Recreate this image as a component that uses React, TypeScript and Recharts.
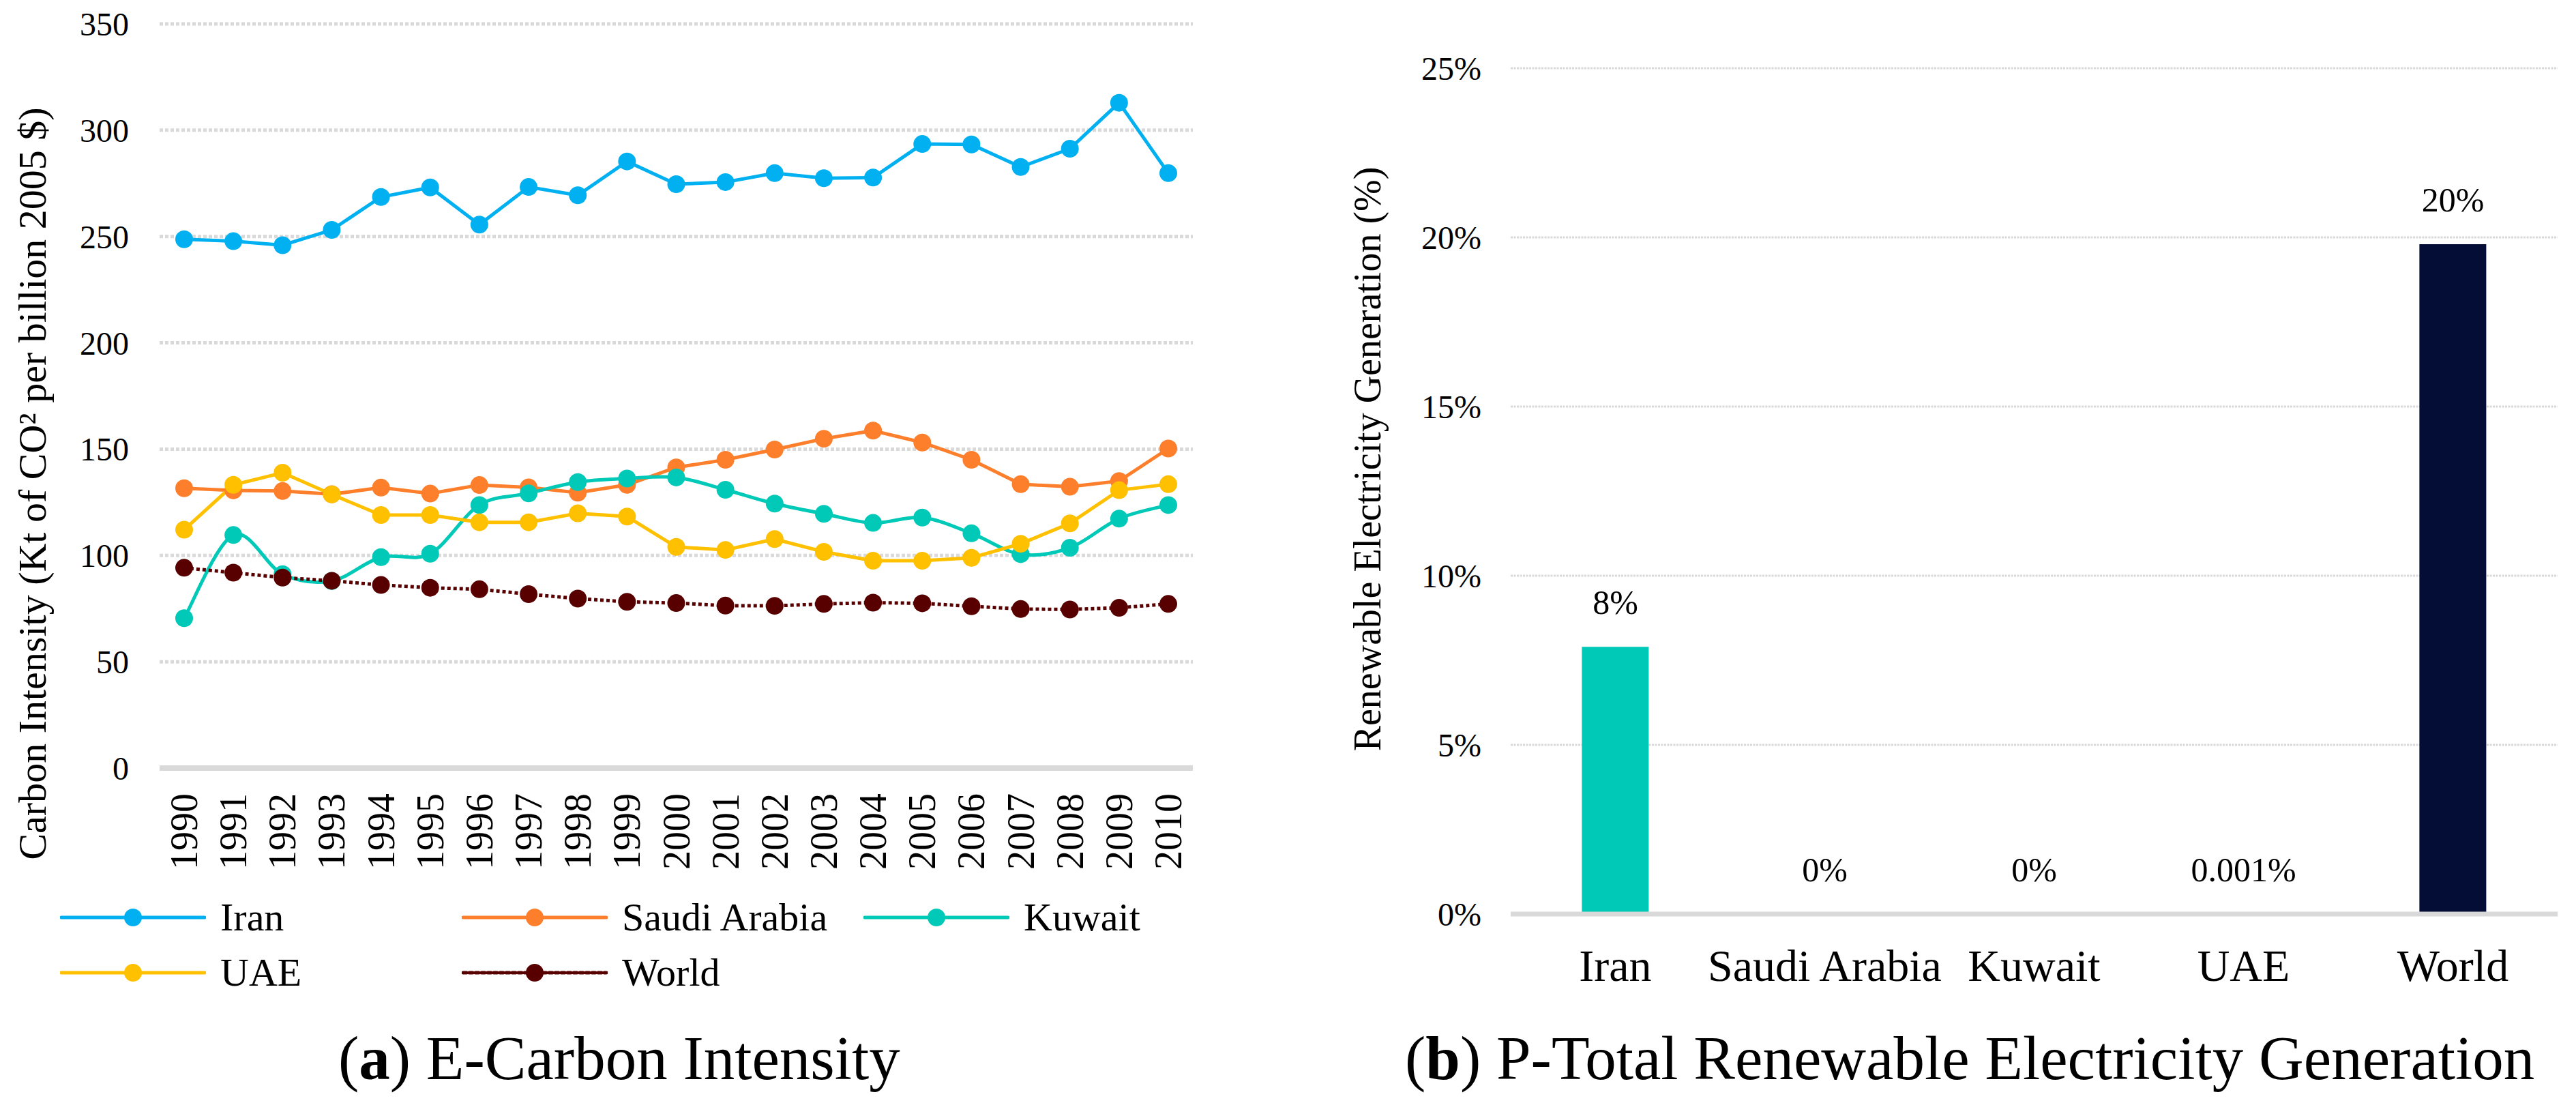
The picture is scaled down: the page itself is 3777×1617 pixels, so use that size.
import React from 'react';
import {
  LineChart, Line, ComposedChart, Bar, Cell, LabelList, XAxis, YAxis, CartesianGrid, Legend,
} from 'recharts';

const years = ['1990', '1991', '1992', '1993', '1994', '1995', '1996', '1997', '1998', '1999', '2000',
  '2001', '2002', '2003', '2004', '2005', '2006', '2007', '2008', '2009', '2010'];

const iran = [248.7, 247.8, 245.9, 253.1, 268.6, 273.1, 255.6, 273.3, 269.4, 285.3, 274.6,
  275.6, 279.8, 277.4, 277.7, 293.5, 293.3, 282.7, 291.3, 312.9, 279.8];
const saudi = [131.6, 130.6, 130.3, 128.8, 131.9, 129.1, 133.1, 132.0, 129.5, 133.2, 141.4,
  145.0, 149.8, 154.9, 158.7, 153.1, 145.0, 133.5, 132.3, 135.0, 150.3];
const kuwait = [70.5, 109.6, 91.2, 88.0, 99.2, 100.8, 123.7, 129.2, 134.5, 136.2, 136.7,
  130.9, 124.4, 119.6, 115.3, 117.8, 110.4, 100.6, 103.6, 117.3, 123.7];
const uae = [112.1, 133.2, 138.9, 128.7, 119.0, 119.0, 115.6, 115.6, 119.8, 118.3, 104.0,
  102.6, 107.7, 101.7, 97.5, 97.5, 98.9, 105.5, 115.1, 130.7, 133.5];
const world = [94.2, 91.9, 89.6, 88.1, 86.1, 84.8, 84.1, 81.8, 79.7, 78.2, 77.6,
  76.4, 76.3, 77.2, 77.8, 77.5, 76.1, 74.8, 74.6, 75.4, 77.2];

const intensityTicks = [0, 50, 100, 150, 200, 250, 300, 350];

const countries = ['Iran', 'Saudi Arabia', 'Kuwait', 'UAE', 'World'];
const renewableShare = [7.9, 0, 0, 0.001, 19.8];
const shareTicks = [0, 5, 10, 15, 20, 25];
const barColors = ['#00c9b7', '#fd7f2c', '#00c9b7', '#ffc000', '#040d36'];

const lineData = years.map((year, i) => ({
  year,
  Iran: iran[i],
  'Saudi Arabia': saudi[i],
  Kuwait: kuwait[i],
  UAE: uae[i],
  World: world[i],
}));

const barData = countries.map((name, i) => ({ name, value: renewableShare[i] }));

const FONT = '"Liberation Serif", "Times New Roman", serif';

// Excel-style smoothed line (Catmull-Rom through the points)
function smoothCurve(context: any) {
  let pts: number[][] = [];
  return {
    areaStart() {},
    areaEnd() {},
    lineStart() { pts = []; },
    point(x: number, y: number) { pts.push([+x, +y]); },
    lineEnd() {
      if (!pts.length) return;
      context.moveTo(pts[0][0], pts[0][1]);
      for (let i = 0; i < pts.length - 1; i++) {
        const p0 = pts[i - 1] || pts[i];
        const p1 = pts[i];
        const p2 = pts[i + 1];
        const p3 = pts[i + 2] || p2;
        context.bezierCurveTo(
          p1[0] + (p2[0] - p0[0]) / 6, p1[1] + (p2[1] - p0[1]) / 6,
          p2[0] - (p3[0] - p1[0]) / 6, p2[1] - (p3[1] - p1[1]) / 6,
          p2[0], p2[1],
        );
      }
    },
  };
}

const series = [
  { key: 'Iran', color: '#00b0f0' },
  { key: 'Saudi Arabia', color: '#fd7f2c' },
  { key: 'Kuwait', color: '#00c9b7', curve: smoothCurve },
  { key: 'UAE', color: '#ffc000' },
  { key: 'World', color: '#580000', dash: '5 4' },
];
const seriesOrder = series.map(s => s.key);

const YearTick = ({ x, y, payload }: any) => (
  <text
    x={x}
    y={y}
    transform={`rotate(-90, ${x}, ${y})`}
    textAnchor="end"
    dominantBaseline="central"
    fontSize={56}
    fontFamily={FONT}
    fill="#000"
  >
    {payload.value}
  </text>
);

const renderLegend = ({ payload }: any) => {
  const items = [...(payload || [])].sort(
    (a: any, b: any) => seriesOrder.indexOf(a.value) - seriesOrder.indexOf(b.value),
  );
  return (
    <div style={{ display: 'grid', gridTemplateColumns: '589px 589px 589px', paddingLeft: 88, fontFamily: FONT }}>
      {items.map((entry: any) => (
        <div key={entry.value} style={{ display: 'flex', alignItems: 'center', height: 81 }}>
          <svg width={214} height={30}>
            <line
              x1={2} y1={15} x2={212} y2={15}
              stroke={entry.color}
              strokeWidth={5}
              strokeLinecap="round"
              strokeDasharray={entry.payload?.strokeDasharray}
            />
            <circle cx={107} cy={15} r={13} fill={entry.color} />
          </svg>
          <span style={{ marginLeft: 21, fontSize: 58, color: '#000', lineHeight: 1 }}>{entry.value}</span>
        </div>
      ))}
    </div>
  );
};

const shareLabel = (v: any) => (v >= 1 ? `${Math.round(v)}%` : `${v}%`);

export default function App() {
  return (
    <div style={{ position: 'absolute', left: 0, top: 0, width: 3777, height: 1617, background: '#fff', fontFamily: FONT }}>
      <div style={{ position: 'absolute', left: 0, top: 0 }}>
        <LineChart width={1900} height={1520} data={lineData} margin={{ top: 35, right: 151, bottom: 220, left: 0 }}>
          <CartesianGrid vertical={false} stroke="#d9d9d9" strokeWidth={5} strokeDasharray="5 3" />
          <XAxis
            dataKey="year"
            height={174}
            padding={{ left: 36, right: 36 }}
            interval={0}
            tick={<YearTick />}
            tickSize={0}
            tickMargin={37}
            axisLine={{ stroke: '#d9d9d9', strokeWidth: 8 }}
            tickLine={false}
          />
          <YAxis
            width={234}
            domain={[0, 350]}
            ticks={intensityTicks}
            interval={0}
            tickSize={0}
            tickMargin={45}
            axisLine={false}
            tickLine={false}
            tick={{ fontSize: 48, fill: '#000', fontFamily: FONT }}
          />
          <Legend
            verticalAlign="middle"
            align="center"
            content={renderLegend}
            wrapperStyle={{ left: 0, top: 1304, width: 1900 }}
          />
          {series.map(s => (
            <Line
              key={s.key}
              dataKey={s.key}
              name={s.key}
              type={(s.curve as any) || 'linear'}
              stroke={s.color}
              strokeWidth={5}
              strokeDasharray={s.dash}
              dot={{ r: 13, fill: s.color, strokeWidth: 0 }}
              activeDot={false}
              isAnimationActive={false}
            />
          ))}
        </LineChart>
      </div>

      <div style={{ position: 'absolute', left: 1900, top: 0 }}>
        <ComposedChart width={1877} height={1500} data={barData} margin={{ top: 100, right: 27, bottom: 0, left: 0 }} barCategoryGap="34%">
          <CartesianGrid vertical={false} stroke="#d9d9d9" strokeWidth={3} strokeDasharray="3 1.5" />
          <XAxis
            dataKey="name"
            height={160}
            interval={0}
            tickSize={0}
            tickMargin={51}
            axisLine={{ stroke: '#d9d9d9', strokeWidth: 7 }}
            tickLine={false}
            tick={{ fontSize: 66, fill: '#000', fontFamily: FONT }}
          />
          <YAxis
            width={315}
            domain={[0, 25]}
            ticks={shareTicks}
            interval={0}
            tickSize={0}
            tickMargin={43}
            axisLine={false}
            tickLine={false}
            tickFormatter={(v: number) => `${v}%`}
            tick={{ fontSize: 48, fill: '#000', fontFamily: FONT }}
          />
          <Bar dataKey="value" isAnimationActive={false}>
            {barData.map((d, i) => (
              <Cell key={d.name} fill={barColors[i]} />
            ))}
          </Bar>
          {/* invisible series that carries the value labels, so zero bars get theirs too */}
          <Line
            dataKey="value"
            stroke="none"
            dot={false}
            activeDot={false}
            legendType="none"
            isAnimationActive={false}
          >
            <LabelList
              dataKey="value"
              position="top"
              offset={48}
              formatter={shareLabel}
              style={{ fontSize: 50, fill: '#000', fontFamily: FONT }}
            />
          </Line>
        </ComposedChart>
      </div>

      <svg width={3777} height={1617} style={{ position: 'absolute', left: 0, top: 0, pointerEvents: 'none' }}>
        <text
          x={47}
          y={709}
          transform="rotate(-90, 47, 709)"
          textAnchor="middle"
          dominantBaseline="central"
          fontSize={58}
          fontFamily={FONT}
          fill="#000"
        >
          Carbon Intensity (Kt of CO² per billion 2005 $)
        </text>
        <text
          x={2005}
          y={673}
          transform="rotate(-90, 2005, 673)"
          textAnchor="middle"
          dominantBaseline="central"
          fontSize={56}
          fontFamily={FONT}
          fill="#000"
        >
          Renewable Electricity Generation (%)
        </text>
        <text x={496} y={1582} fontSize={91} fontFamily={FONT} fill="#000">
          (<tspan fontWeight="bold">a</tspan>) E-Carbon Intensity
        </text>
        <text x={2060} y={1582} fontSize={91} fontFamily={FONT} fill="#000">
          (<tspan fontWeight="bold">b</tspan>) P-Total Renewable Electricity Generation
        </text>
      </svg>
    </div>
  );
}
